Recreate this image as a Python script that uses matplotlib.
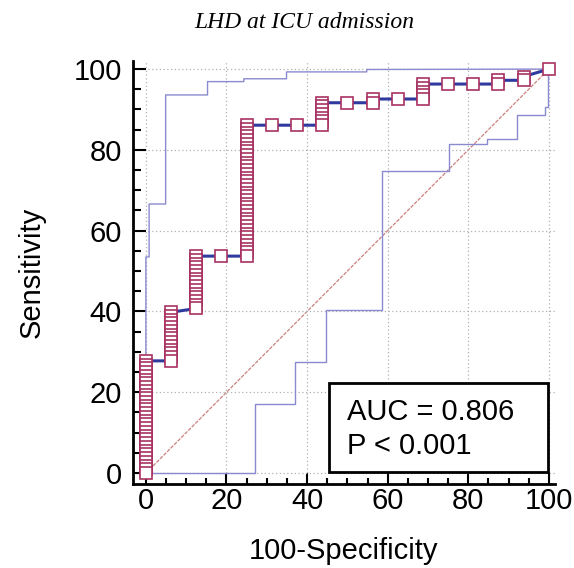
import matplotlib
matplotlib.use("Agg")
import matplotlib.pyplot as plt
from matplotlib.ticker import MultipleLocator
from matplotlib.patches import Rectangle

# --- data ---
N_NEG = 16    # negatives -> 100-specificity steps of 6.25
N_POS = 108   # positives -> sensitivity steps

# true-positive counts of the ROC points, one list per false-positive count
roc_tp = [
    [0, 1, 2, 3, 4, 5, 6, 7, 8, 9, 10, 11, 12, 13, 14, 15, 16, 17, 18, 19,
     20, 21, 22, 23, 24, 25, 26, 27, 28, 29, 30],
    [30, 31, 32, 33, 34, 35, 36, 37, 38, 39, 40, 41, 42, 43],
    [44, 45, 46, 47, 48, 49, 50, 51, 52, 53, 54, 55, 56, 57, 58],
    [58],
    [58, 59, 60, 61, 62, 63, 64, 65, 66, 67, 68, 69, 70, 71, 72, 73, 74, 75,
     76, 77, 78, 79, 80, 81, 82, 83, 84, 85, 86, 87, 88, 89, 90, 91, 92, 93],
    [93],
    [93],
    [93, 94, 95, 96, 97, 98, 99],
    [99],
    [99, 100],
    [100],
    [100, 101, 102, 103, 104],
    [104],
    [104],
    [104, 105],
    [105, 106],
    [108],
]

# 95% confidence band (step outlines)
upper_x = [0, 0, 0.8, 0.8, 4.9, 4.9, 15.3, 15.3, 24.3, 24.3, 34.9, 34.9, 54.8, 54.8, 100]
upper_y = [0, 53.5, 53.5, 66.6, 66.6, 93.6, 93.6, 96.9, 96.9, 97.6, 97.6, 99.3, 99.3, 99.9, 100]
lower_x = [0, 27.0, 27.0, 37.0, 37.0, 44.8, 44.8, 58.7, 58.7, 75.3, 75.3, 84.7, 84.7,
           92.0, 92.0, 99.0, 99.0, 99.7, 99.7, 100]
lower_y = [0, 0, 17.1, 17.1, 27.4, 27.4, 40.3, 40.3, 74.8, 74.8, 81.4, 81.4, 82.6,
           82.6, 88.6, 88.6, 90.7, 90.7, 100, 100]

TITLE = "LHD at ICU admission"
AUC_TEXT = "AUC = 0.806"
P_TEXT = "P < 0.001"

# --- build curve ---
fpr, sens = [], []
for fp, tps in enumerate(roc_tp):
    for tp in tps:
        fpr.append(fp / N_NEG * 100)
        sens.append(tp / N_POS * 100)

plt.rcParams['font.family'] = ['Liberation Sans', 'DejaVu Sans']

fig = plt.figure(figsize=(5.74, 5.68), dpi=100)
ax = fig.add_axes([0.2317, 0.1479, 0.735, 0.7447])

ax.set_xlim(-3.2, 101.5)
ax.set_ylim(-2.7, 102)

ax.grid(True, which='major', color='#b0b0b0', linestyle=(0, (1, 2)), linewidth=0.9, zorder=0)

ax.plot([0, 100], [0, 100], color='#cc8080', linewidth=0.9, linestyle=(0, (3, 1)), zorder=1)
ax.plot(upper_x, upper_y, color='#8a8ad0', linewidth=1.0, zorder=2)
ax.plot(lower_x, lower_y, color='#8a8ad0', linewidth=1.0, zorder=2)

ax.plot(fpr, sens, color='#2e3a9e', linewidth=2.2, zorder=3)
# reversed so the lowest square in every column sits on top
ax.plot(fpr[::-1], sens[::-1], linestyle='none', marker='s', markersize=8.4,
        markerfacecolor='white', markeredgecolor='#a83262', markeredgewidth=1.2, zorder=4)

ax.add_patch(Rectangle((45.4, 0.2), 54.4, 22.1, facecolor='white', edgecolor='black',
                       linewidth=2, zorder=5))
ax.text(49.8, 13.1, AUC_TEXT, fontsize=21, va='baseline', ha='left', zorder=6)
ax.text(49.8, 4.7, P_TEXT, fontsize=21, va='baseline', ha='left', zorder=6)

ax.set_xticks(range(0, 101, 20))
ax.set_yticks(range(0, 101, 20))
ax.xaxis.set_minor_locator(MultipleLocator(5))
ax.yaxis.set_minor_locator(MultipleLocator(5))
ax.tick_params(which='both', direction='in', width=1.5, colors='black', labelsize=21)
ax.tick_params(axis='x', which='major', length=8, pad=2)
ax.tick_params(axis='x', which='minor', length=4)
ax.tick_params(axis='y', which='major', length=9, pad=8)
ax.tick_params(axis='y', which='minor', length=6)

for side in ['top', 'right']:
    ax.spines[side].set_visible(False)
for side in ['left', 'bottom']:
    ax.spines[side].set_linewidth(2)
    ax.spines[side].set_color('black')

ax.set_xlabel('100-Specificity', fontsize=21, labelpad=16)
ax.set_ylabel('Sensitivity', fontsize=21, labelpad=20)

fig.text(0.531, 0.961, TITLE, family='Liberation Serif', style='italic', fontsize=17,
         ha='center', va='center')

fig.savefig('out.png', dpi=100)
